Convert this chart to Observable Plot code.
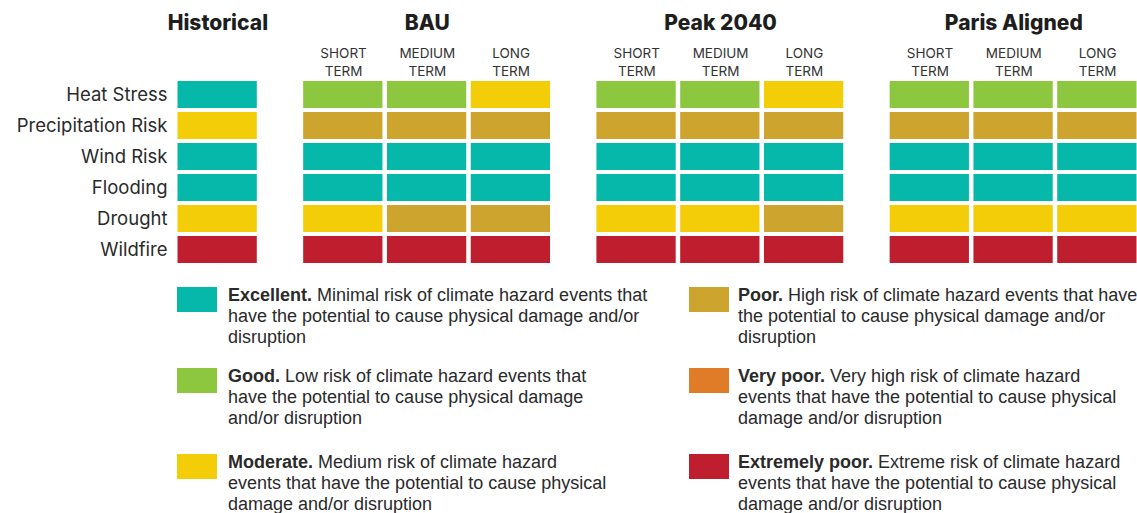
<!DOCTYPE html>
<html>
<head>
<meta charset="utf-8">
<script src="https://cdn.jsdelivr.net/npm/d3@7"></script>
<script src="https://cdn.jsdelivr.net/npm/@observablehq/plot@0.6"></script>
<style>
  html, body { margin: 0; padding: 0; background: #fff; }
  #wrap { width: 1137px; position: relative; }
  #chart svg { display: block; }
  #legend { position: relative; width: 1137px; height: 233px; font-family: "Liberation Sans", Arial, sans-serif; font-size: 18px; line-height: 21px; color: #2a2a2a; }
  .item { position: absolute; display: flex; }
  .sw { width: 40px; height: 25px; margin-top: 2.5px; flex: none; }
  .txt { white-space: nowrap; }
  .txt b { font-weight: 700; }
</style>
</head>
<body>
<div id="wrap">
  <div id="chart"></div>
  <div id="legend"></div>
</div>
<script>
const hazards = ["Heat Stress", "Precipitation Risk", "Wind Risk", "Flooding", "Drought", "Wildfire"];
const scenarios = ["Historical", "BAU", "Peak 2040", "Paris Aligned"];
const terms = ["SHORT\nTERM", "MEDIUM\nTERM", "LONG\nTERM"];
const ratings = ["Excellent", "Good", "Moderate", "Poor", "Very poor", "Extremely poor"];
const ratingColors = ["#05b8a9", "#8dc63f", "#f2cd08", "#cda42e", "#e07b28", "#be1e2d"];
const ratingDescriptions = [
  ["Minimal risk of climate hazard events that", "have the potential to cause physical damage and/or", "disruption"],
  ["Low risk of climate hazard events that", "have the potential to cause physical damage", "and/or disruption"],
  ["Medium risk of climate hazard", "events that have the potential to cause physical", "damage and/or disruption"],
  ["High risk of climate hazard events that have", "the potential to cause physical damage and/or", "disruption"],
  ["Very high risk of climate hazard", "events that have the potential to cause physical", "damage and/or disruption"],
  ["Extreme risk of climate hazard", "events that have the potential to cause physical", "damage and/or disruption"]
];

// ratings per hazard (same order as hazards)
const historical   = ["Excellent", "Moderate", "Excellent", "Excellent", "Moderate", "Extremely poor"];
const bauShort     = ["Good", "Poor", "Excellent", "Excellent", "Moderate", "Extremely poor"];
const bauMedium    = ["Good", "Poor", "Excellent", "Excellent", "Poor", "Extremely poor"];
const bauLong      = ["Moderate", "Poor", "Excellent", "Excellent", "Poor", "Extremely poor"];
const peakShort    = ["Good", "Poor", "Excellent", "Excellent", "Moderate", "Extremely poor"];
const peakMedium   = ["Good", "Poor", "Excellent", "Excellent", "Moderate", "Extremely poor"];
const peakLong     = ["Moderate", "Poor", "Excellent", "Excellent", "Poor", "Extremely poor"];
const parisShort   = ["Good", "Poor", "Excellent", "Excellent", "Moderate", "Extremely poor"];
const parisMedium  = ["Good", "Poor", "Excellent", "Excellent", "Moderate", "Extremely poor"];
const parisLong    = ["Good", "Poor", "Excellent", "Excellent", "Moderate", "Extremely poor"];

const columnSeries = [
  {scenario: "Historical", term: null, values: historical},
  {scenario: "BAU", term: terms[0], values: bauShort},
  {scenario: "BAU", term: terms[1], values: bauMedium},
  {scenario: "BAU", term: terms[2], values: bauLong},
  {scenario: "Peak 2040", term: terms[0], values: peakShort},
  {scenario: "Peak 2040", term: terms[1], values: peakMedium},
  {scenario: "Peak 2040", term: terms[2], values: peakLong},
  {scenario: "Paris Aligned", term: terms[0], values: parisShort},
  {scenario: "Paris Aligned", term: terms[1], values: parisMedium},
  {scenario: "Paris Aligned", term: terms[2], values: parisLong}
];

// column index with half-column gap between scenario groups
const columns = columnSeries.map((c, i) => ({...c, pos: i + 0.5 * scenarios.indexOf(c.scenario)}));
const cells = columns.flatMap(c => c.values.map((r, j) => ({hazard: hazards[j], rating: r, pos: c.pos, end: c.pos + 1})));
const termLabels = columns.filter(c => c.term).map(c => ({label: c.term, center: c.pos + 0.5}));
const groupTitles = scenarios.map(s => {
  const cs = columns.filter(c => c.scenario === s);
  return {name: s, center: (cs[0].pos + cs[cs.length - 1].pos + 1) / 2};
});
const xMax = columns[columns.length - 1].pos + 1;

const chart = Plot.plot({
  width: 1137,
  height: 280,
  marginLeft: 176,
  marginRight: 0,
  marginTop: 79,
  marginBottom: 15,
  style: {fontFamily: "Inter, 'Open Sans', sans-serif", color: "#2a2a2a", background: "#fff"},
  x: {domain: [0, xMax], range: [175.5, 1139], axis: null},
  y: {domain: hazards, paddingInner: 0.12, paddingOuter: 0, label: null},
  color: {type: "ordinal", domain: ratings, range: ratingColors},
  marks: [
    Plot.axisY({tickSize: 0, tickPadding: 9, fontSize: 18.5, label: null, fill: "#2a2a2a"}),
    Plot.barX(cells, {x1: "pos", x2: "end", y: "hazard", fill: "rating", insetLeft: 2, insetRight: 2.5}),
    Plot.text(groupTitles, {x: "center", text: "name", frameAnchor: "top", dy: -56, lineAnchor: "middle", fontSize: 21, fontWeight: 800, fill: "#1e1e1e"}),
    Plot.text(termLabels, {x: "center", text: "label", frameAnchor: "top", dy: -18, lineAnchor: "middle", lineHeight: 1.33, fontSize: 13.5, fill: "#333"})
  ]
});
document.getElementById("chart").appendChild(chart);

// legend
const legend = document.getElementById("legend");
const legendTops = [4.5, 85.5, 171.5];
ratings.forEach((r, i) => {
  const col = Math.floor(i / 3), row = i % 3;
  const item = document.createElement("div");
  item.className = "item";
  item.style.left = (col === 0 ? 177 : 689) + "px";
  item.style.top = legendTops[row] + "px";
  const sw = document.createElement("div");
  sw.className = "sw";
  sw.style.background = ratingColors[i];
  const txt = document.createElement("div");
  txt.className = "txt";
  txt.style.marginLeft = (col === 0 ? 11 : 9) + "px";
  const lines = ratingDescriptions[i];
  txt.innerHTML = "<b>" + r + ".</b> " + lines[0] + "<br>" + lines.slice(1).join("<br>");
  item.appendChild(sw);
  item.appendChild(txt);
  legend.appendChild(item);
});
</script>
</body>
</html>
